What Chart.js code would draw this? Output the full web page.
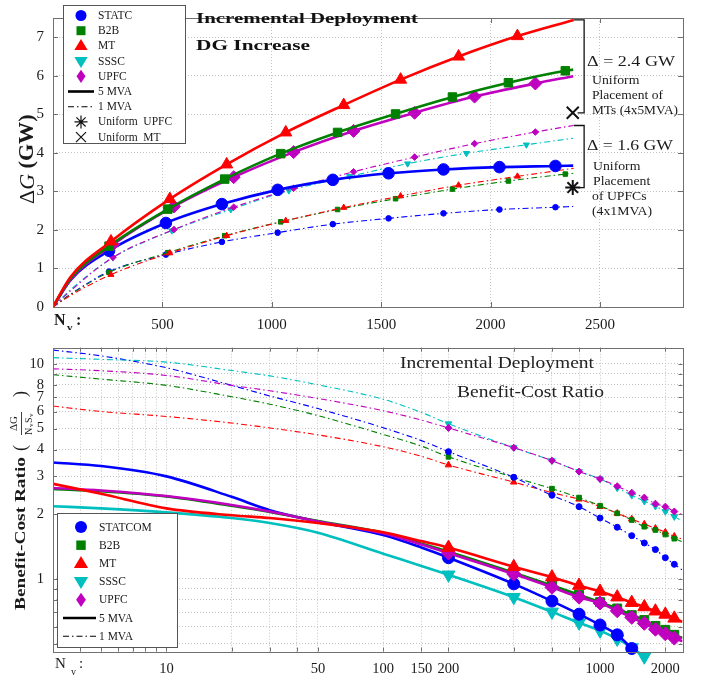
<!DOCTYPE html>
<html><head><meta charset="utf-8">
<script src="https://cdn.jsdelivr.net/npm/chart.js@4/dist/chart.umd.min.js"></script>
<style>
html,body{margin:0;padding:0;background:#fff;}
#wrap{position:relative;width:708px;height:680px;overflow:hidden;}
canvas{position:absolute;left:0;}
</style></head><body>
<div id="wrap">
<canvas id="c1" width="708" height="330" style="top:0"></canvas>
<canvas id="c2" width="708" height="350" style="top:330px"></canvas>
</div>
<script>
// ================= DATA : top panel (ΔG, GW) =================
const topXTicks = [500, 1000, 1500, 2000, 2500];
const topYTicks = [0, 1, 2, 3, 4, 5, 6, 7];

const statc5X = [0, 80, 256, 516, 772, 1027, 1279, 1534, 1785, 2041, 2297, 2378];
const statc5Y = [0, 0.70, 1.46, 2.18, 2.67, 3.04, 3.30, 3.47, 3.57, 3.63, 3.66, 3.67];
const b2b5X   = [0, 80, 256, 525, 785, 1041, 1301, 1566, 1826, 2082, 2342, 2378];
const b2b5Y   = [0, 0.74, 1.58, 2.54, 3.32, 3.98, 4.53, 5.01, 5.45, 5.82, 6.13, 6.16];
const mt5X    = [0, 80, 265, 534, 794, 1064, 1329, 1589, 1854, 2123, 2380];
const mt5Y    = [0, 0.78, 1.70, 2.80, 3.70, 4.53, 5.24, 5.90, 6.50, 7.03, 7.45];
const upfc5X  = [0, 80, 274, 553, 826, 1100, 1374, 1653, 1927, 2205, 2378];
const upfc5Y  = [0, 0.71, 1.62, 2.61, 3.37, 4.02, 4.57, 5.04, 5.46, 5.80, 5.99];

const statc1X = [0, 80, 256, 516, 772, 1027, 1279, 1534, 1785, 2041, 2297, 2378];
const statc1Y = [0, 0.33, 0.92, 1.36, 1.69, 1.93, 2.15, 2.30, 2.43, 2.53, 2.59, 2.61];
const b2b1X   = [0, 80, 256, 525, 785, 1041, 1301, 1566, 1826, 2082, 2342, 2378];
const b2b1Y   = [0, 0.32, 0.90, 1.41, 1.85, 2.21, 2.53, 2.81, 3.06, 3.27, 3.45, 3.47];
const mt1X    = [0, 80, 265, 534, 794, 1064, 1329, 1589, 1854, 2123, 2380];
const mt1Y    = [0, 0.30, 0.84, 1.40, 1.85, 2.24, 2.58, 2.88, 3.16, 3.39, 3.60];
const sssc1X  = [0, 80, 274, 543, 813, 1078, 1356, 1621, 1890, 2164, 2378];
const sssc1Y  = [0, 0.45, 1.28, 1.98, 2.53, 3.02, 3.39, 3.72, 3.99, 4.21, 4.38];
const upfc1X  = [0, 80, 274, 553, 826, 1100, 1374, 1653, 1927, 2205, 2378];
const upfc1Y  = [0, 0.42, 1.29, 2.01, 2.59, 3.08, 3.51, 3.89, 4.24, 4.54, 4.71];

const uniformUpfcX = [2376];
const uniformUpfcY = [3.10];
const uniformMtX   = [2376];
const uniformMtY   = [5.04];

// ================= DATA : bottom panel (benefit-cost ratio) =================
const botXTicks  = [4, 5, 6, 7, 8, 9, 10, 20, 30, 40, 50, 100, 150, 200, 400, 600, 800, 1000, 2000];
const botXLabels = [10, 50, 100, 150, 200, 1000, 2000];
const botYTicks  = [0.5, 0.6, 0.7, 0.8, 0.9, 1, 2, 3, 4, 5, 6, 7, 8, 9, 10];
const botYLabels = [1, 2, 3, 4, 5, 6, 7, 8, 10];

const nvAll = [3, 5, 10, 20, 30, 50, 100, 150, 200, 400, 600, 800, 1000, 1200, 1400, 1600, 1800, 2000, 2200, 2400];
const bcStatcom5X = [3, 5, 10, 20, 30, 50, 100, 150, 200, 400, 600, 800, 1000, 1200, 1400];
const bcStatcom5Y = [3.48, 3.35, 3.0, 2.41, 2.09, 1.85, 1.60, 1.40, 1.256, 0.949, 0.789, 0.686, 0.611, 0.550, 0.475];
const bcSssc5X    = [3, 5, 10, 20, 30, 50, 100, 150, 200, 400, 600, 800, 1000, 1200, 1400, 1600];
const bcSssc5Y    = [2.18, 2.13, 2.04, 1.92, 1.82, 1.64, 1.31, 1.15, 1.046, 0.823, 0.703, 0.626, 0.575, 0.526, 0.48, 0.435];
const bcMt5Y      = [2.77, 2.49, 2.13, 1.98, 1.92, 1.82, 1.65, 1.50, 1.40, 1.14, 1.02, 0.932, 0.875, 0.823, 0.776, 0.741, 0.708, 0.684, 0.656, 0.633];
const bcB2b5Y     = [2.62, 2.56, 2.42, 2.19, 2.05, 1.86, 1.64, 1.46, 1.34, 1.07, 0.932, 0.845, 0.78, 0.729, 0.679, 0.644, 0.605, 0.58, 0.55, 0.531];
const bcUpfc5Y    = [2.65, 2.58, 2.43, 2.21, 2.06, 1.85, 1.63, 1.445, 1.32, 1.054, 0.915, 0.823, 0.773, 0.711, 0.663, 0.622, 0.584, 0.556, 0.531, 0.513];

const bcStatcom1Y = [11.6, 10.9, 9.6, 7.95, 7.1, 6.2, 5.05, 4.4, 3.91, 2.97, 2.45, 2.17, 1.92, 1.74, 1.59, 1.47, 1.37, 1.256, 1.17, 1.10];
const bcB2b1Y     = [8.91, 8.5, 7.95, 7.04, 6.5, 5.75, 4.7, 4.15, 3.70, 2.97, 2.63, 2.39, 2.19, 2.02, 1.88, 1.75, 1.69, 1.61, 1.54, 1.49];
const bcMt1Y      = [6.37, 6.01, 5.70, 5.31, 5.04, 4.68, 4.12, 3.72, 3.39, 2.82, 2.52, 2.35, 2.17, 2.02, 1.90, 1.80, 1.72, 1.65, 1.58, 1.53];
const bcSssc1Y    = [10.7, 10.5, 10.2, 9.32, 8.8, 8.0, 6.85, 5.95, 5.27, 4.08, 3.55, 3.16, 2.92, 2.65, 2.45, 2.30, 2.18, 2.06, 1.95, 1.86];
const bcUpfc1Y    = [9.49, 9.3, 8.84, 7.95, 7.5, 6.91, 6.06, 5.48, 5.04, 4.08, 3.55, 3.16, 2.92, 2.70, 2.52, 2.39, 2.24, 2.17, 2.06, 1.99];

// ================= STYLE =================
const SERIF = "'Liberation Serif','Times New Roman',serif";
const C = {blue:'#0000ff', green:'#008000', red:'#ff0000', cyan:'#00bfbf', magenta:'#bf00bf', black:'#000'};

function pts(xs, ys){ return xs.map((x,i)=>({x:x, y:ys[i]})); }
function mRad(r){ return c => { const p = c.raw; return (p && p.x >= 200 && p.x < 2370) ? r : 0; }; }
function series(label, xs, ys, color, style, big, extra){
  return Object.assign({
    label: label, data: pts(xs, ys),
    borderColor: color, backgroundColor: color,
    pointBackgroundColor: color, pointBorderColor: color,
    borderWidth: big ? 2.6 : 1.1,
    borderDash: big ? [] : [6, 3, 1.5, 3],
    pointStyle: style, pointRadius: mRad(big ? 6 : 2.8), pointHoverRadius: 0,
    pointBorderWidth: 1, cubicInterpolationMode: 'monotone', fill: false
  }, extra || {});
}

function txt(ctx, s, x, y, size, weight, opt){
  opt = opt || {};
  ctx.save();
  ctx.font = (opt.italic ? 'italic ' : '') + (weight||'normal') + ' ' + size + 'px ' + SERIF;
  ctx.fillStyle = opt.color || '#1a1a1a';
  ctx.textBaseline = 'middle'; ctx.textAlign = 'left';
  const m = ctx.measureText(s).width;
  const sx = opt.width ? opt.width / m : (opt.stretch || 1);
  ctx.translate(x, y); ctx.scale(sx, 1);
  ctx.fillText(s, 0, 0);
  ctx.restore();
  return m * sx;
}

function marker(ctx, style, x, y, r, color){
  ctx.save(); ctx.fillStyle = color; ctx.strokeStyle = color; ctx.lineWidth = 1;
  ctx.beginPath();
  if (style === 'circle') { ctx.arc(x, y, r, 0, Math.PI*2); ctx.fill(); }
  else if (style === 'rect') { const s = r*0.75; ctx.rect(x-s, y-s, 2*s, 2*s); ctx.fill(); }
  else if (style === 'triUp') { ctx.moveTo(x, y-r); ctx.lineTo(x+r*0.95, y+r*0.6); ctx.lineTo(x-r*0.95, y+r*0.6); ctx.closePath(); ctx.fill(); }
  else if (style === 'triDown') { ctx.moveTo(x, y+r); ctx.lineTo(x+r*0.95, y-r*0.6); ctx.lineTo(x-r*0.95, y-r*0.6); ctx.closePath(); ctx.fill(); }
  else if (style === 'diamond') { ctx.moveTo(x, y-r*1.1); ctx.lineTo(x+r*0.75, y); ctx.lineTo(x, y+r*1.1); ctx.lineTo(x-r*0.75, y); ctx.closePath(); ctx.fill(); }
  else if (style === 'star') { ctx.lineWidth = 1.2; for (let k=0;k<4;k++){ const a=k*Math.PI/4; ctx.moveTo(x-r*Math.cos(a), y-r*Math.sin(a)); ctx.lineTo(x+r*Math.cos(a), y+r*Math.sin(a)); } ctx.stroke(); }
  else if (style === 'x') { ctx.lineWidth = 1.2; ctx.moveTo(x-r, y-r); ctx.lineTo(x+r, y+r); ctx.moveTo(x+r, y-r); ctx.lineTo(x-r, y+r); ctx.stroke(); }
  ctx.restore();
}

function frameAndTicks(chart, len){
  const ctx = chart.ctx, a = chart.chartArea, xs = chart.scales.x, ys = chart.scales.y;
  ctx.save(); ctx.strokeStyle = '#707070'; ctx.lineWidth = 1;
  ctx.beginPath();
  xs.ticks.forEach(t => { const p = Math.round(xs.getPixelForValue(t.value)) + 0.5;
    if (p <= a.left + 1 || p >= a.right - 1) return;
    ctx.moveTo(p, a.bottom); ctx.lineTo(p, a.bottom - len); ctx.moveTo(p, a.top); ctx.lineTo(p, a.top + len); });
  ys.ticks.forEach(t => { const p = Math.round(ys.getPixelForValue(t.value)) + 0.5;
    if (p <= a.top + 1 || p >= a.bottom - 1) return;
    ctx.moveTo(a.left, p); ctx.lineTo(a.left + len, p); ctx.moveTo(a.right, p); ctx.lineTo(a.right - len, p); });
  ctx.stroke();
  ctx.strokeRect(Math.round(a.left) + 0.5, Math.round(a.top) + 0.5, Math.round(a.right - a.left), Math.round(a.bottom - a.top));
  ctx.restore();
}

function legendBox(ctx, box, rows, rowH, mx, tx, fs, lineX0, lineX1){
  ctx.save();
  ctx.fillStyle = '#fff'; ctx.fillRect(box[0], box[1], box[2]-box[0], box[3]-box[1]);
  ctx.strokeStyle = '#555'; ctx.lineWidth = 1;
  ctx.strokeRect(box[0]+0.5, box[1]+0.5, box[2]-box[0], box[3]-box[1]);
  rows.forEach((r, i) => {
    const y = box[1] + rowH.first + i*rowH.step;
    if (r.line) {
      ctx.save(); ctx.strokeStyle = '#000'; ctx.lineWidth = r.line === 'solid' ? 2.6 : 1.1;
      ctx.setLineDash(r.line === 'solid' ? [] : [6,3,1.5,3]);
      ctx.beginPath(); ctx.moveTo(lineX0, y); ctx.lineTo(lineX1, y); ctx.stroke(); ctx.restore();
    } else marker(ctx, r.m, mx, y, r.r || 6, r.c);
    txt(ctx, r.t, tx, y + 0.5, fs, 'normal');
  });
  ctx.restore();
}

// ================= TOP CHART =================
const topDecor = {
  id: 'topDecor',
  afterDraw(chart){
    const ctx = chart.ctx, xs = chart.scales.x, ys = chart.scales.y;
    frameAndTicks(chart, 5);
    // N_v :
    txt(ctx, 'N', 54, 321, 16, 'bold');
    txt(ctx, 'v', 67, 328, 11, 'bold');
    txt(ctx, ':', 76, 321, 16, 'bold');
    // y title
    ctx.save(); ctx.translate(28, 204); ctx.rotate(-Math.PI/2);
    let w = 0;
    w += txt(ctx, 'Δ', w, 0, 21, 'normal', {stretch:1.05});
    w += txt(ctx, 'G', w, 0, 21, 'normal', {italic:true, stretch:1.05});
    txt(ctx, ' (GW)', w, 0, 21, 'bold', {stretch:1.05});
    ctx.restore();
    // titles
    txt(ctx, 'Incremental Deployment', 196, 19, 15, 'bold', {width:222, color:'#111'});
    txt(ctx, 'DG Increase', 196, 46, 15, 'bold', {width:114, color:'#111'});
    // brackets
    ctx.save(); ctx.strokeStyle = '#111'; ctx.lineWidth = 1.3;
    const xe = xs.getPixelForValue(mt5X[mt5X.length-1]);
    const xb = xe + 10.5;
    const y1 = ys.getPixelForValue(mt5Y[mt5Y.length-1]);
    const y2 = ys.getPixelForValue(uniformMtY[0]);
    ctx.beginPath(); ctx.moveTo(xe, y1); ctx.lineTo(xb, y1); ctx.lineTo(xb, y2); ctx.lineTo(xe+4, y2); ctx.stroke();
    const y3 = ys.getPixelForValue(upfc1Y[upfc1Y.length-1]);
    const y4 = ys.getPixelForValue(uniformUpfcY[0]);
    ctx.beginPath(); ctx.moveTo(xe, y3); ctx.lineTo(xb, y3); ctx.lineTo(xb, y4); ctx.lineTo(xe+5, y4); ctx.stroke();
    ctx.restore();
    // annotations
    txt(ctx, 'Δ = 2.4 GW', 587, 62, 14.5, 'normal', {width:88});
    txt(ctx, 'Uniform', 592, 81, 12.5, 'normal', {stretch:1.1});
    txt(ctx, 'Placement of', 592, 96, 12.5, 'normal', {width:71});
    txt(ctx, 'MTs (4x5MVA)', 592, 111, 12.5, 'normal', {width:86});
    txt(ctx, 'Δ = 1.6 GW', 587, 146, 14.5, 'normal', {width:86});
    txt(ctx, 'Uniform', 593, 167, 12.5, 'normal', {stretch:1.1});
    txt(ctx, 'Placement', 593, 182, 12.5, 'normal', {stretch:1.1});
    txt(ctx, 'of UPFCs', 592, 197, 12.5, 'normal', {stretch:1.1});
    txt(ctx, '(4x1MVA)', 592, 212, 12.5, 'normal', {stretch:1.1});
    // legend
    legendBox(ctx, [63, 5, 185, 143], [
      {m:'circle', c:C.blue, t:'STATC', r:5.5},
      {m:'rect', c:C.green, t:'B2B', r:6},
      {m:'triUp', c:C.red, t:'MT', r:7},
      {m:'triDown', c:C.cyan, t:'SSSC', r:7},
      {m:'diamond', c:C.magenta, t:'UPFC', r:6},
      {line:'solid', t:'5 MVA'},
      {line:'dash', t:'1 MVA'},
      {m:'star', c:'#111', t:'Uniform  UPFC', r:6.5},
      {m:'x', c:'#111', t:'Uniform  MT', r:5}
    ], {first:10.5, step:15.2}, 81, 98, 11.5, 68, 94);
  }
};

new Chart(document.getElementById('c1'), {
  type: 'line',
  data: { datasets: [
    series('Uniform UPFC', uniformUpfcX, uniformUpfcY, '#111', 'star', true, {pointRadius:7.5, pointBorderWidth:2, showLine:false}),
    series('Uniform MT', uniformMtX, uniformMtY, '#111', 'crossRot', true, {pointRadius:8.5, pointBorderWidth:2, showLine:false}),
    series('MT 5', mt5X, mt5Y, C.red, 'triangle', true, {pointRadius:mRad(7)}),
    series('B2B 5', b2b5X, b2b5Y, C.green, 'rect', true),
    series('UPFC 5', upfc5X, upfc5Y, C.magenta, 'rectRot', true, {pointRadius:mRad(6.5)}),
    series('STATC 5', statc5X, statc5Y, C.blue, 'circle', true, {pointRadius:mRad(5.8)}),
    series('UPFC 1', upfc1X, upfc1Y, C.magenta, 'rectRot', false, {pointRadius:mRad(3.3)}),
    series('SSSC 1', sssc1X, sssc1Y, C.cyan, 'triangle', false, {pointRotation:180, pointRadius:mRad(3.5)}),
    series('MT 1', mt1X, mt1Y, C.red, 'triangle', false, {pointRadius:mRad(3.5)}),
    series('B2B 1', b2b1X, b2b1Y, C.green, 'rect', false, {pointRadius:mRad(3.2)}),
    series('STATC 1', statc1X, statc1Y, C.blue, 'circle', false, {pointRadius:mRad(2.8)})
  ]},
  options: {
    responsive: false, animation: false, events: [],
    layout: { padding: { left: 0, right: 25, top: 3, bottom: 0 } },
    plugins: { legend: { display: false }, tooltip: { enabled: false } },
    scales: {
      x: { type: 'linear', min: 0, max: 2880,
        afterBuildTicks: s => { s.ticks = topXTicks.map(v => ({value: v})); },
        afterFit: s => { s.height = 23; },
        grid: { color: '#c4c4c4', lineWidth: 1, drawTicks: false },
        border: { display: false, dash: [1, 2] },
        ticks: { color: '#1a1a1a', font: { family: SERIF, size: 15 }, padding: 9, maxRotation: 0, autoSkip: false,
          callback: v => String(v) } },
      y: { type: 'linear', min: 0, max: 7.5,
        afterBuildTicks: s => { s.ticks = topYTicks.map(v => ({value: v})); },
        afterFit: s => { s.width = 53; },
        grid: { color: c => (c.tick && c.tick.value === 0) ? 'rgba(0,0,0,0)' : '#c4c4c4', lineWidth: 1, drawTicks: false },
        border: { display: false, dash: [1, 2] },
        ticks: { color: '#1a1a1a', font: { family: SERIF, size: 15 }, padding: 9, autoSkip: false,
          callback: v => String(v) } }
    }
  },
  plugins: [topDecor]
});

// ================= BOTTOM CHART =================
const botDecor = {
  id: 'botDecor',
  afterDraw(chart){
    const ctx = chart.ctx;
    frameAndTicks(chart, 4);
    txt(ctx, 'N', 55, 334, 15, 'normal');
    txt(ctx, 'v', 71, 342, 10, 'normal');
    txt(ctx, ':', 79, 334, 15, 'normal');
    // y title
    ctx.save(); ctx.translate(21, 280); ctx.rotate(-Math.PI/2);
    let w = txt(ctx, 'Benefit-Cost Ratio', 0, 0, 15, 'bold', {width:153});
    w += 6; txt(ctx, '(', w, 0, 18, 'normal'); w += 16;
    txt(ctx, 'ΔG', w + 4, -7, 11, 'normal');
    txt(ctx, 'N', w, 8, 10, 'normal'); txt(ctx, 'v', w + 8, 10, 7, 'normal');
    txt(ctx, 'S', w + 12, 8, 10, 'normal'); txt(ctx, 'v', w + 18, 10, 7, 'normal');
    ctx.strokeStyle = '#111'; ctx.lineWidth = 0.8; ctx.beginPath(); ctx.moveTo(w, 0.5); ctx.lineTo(w + 23, 0.5); ctx.stroke();
    w += 38; txt(ctx, ')', w, 0, 18, 'normal');
    ctx.restore();
    // titles
    txt(ctx, 'Incremental Deployment', 400, 33.5, 16.5, 'normal', {width:194, color:'#222'});
    txt(ctx, 'Benefit-Cost Ratio', 457, 62.5, 16.5, 'normal', {width:147, color:'#222'});
    // legend
    legendBox(ctx, [57, 183, 177, 317], [
      {m:'circle', c:C.blue, t:'STATCOM', r:6},
      {m:'rect', c:C.green, t:'B2B', r:6.3},
      {m:'triUp', c:C.red, t:'MT', r:7.5},
      {m:'triDown', c:C.cyan, t:'SSSC', r:7.5},
      {m:'diamond', c:C.magenta, t:'UPFC', r:6.5},
      {line:'solid', t:'5 MVA'},
      {line:'dash', t:'1 MVA'}
    ], {first:14, step:18.2}, 81, 99, 11.5, 63, 96);
  }
};

const lowClip = {left: 0, top: 0, right: 0, bottom: 14};
new Chart(document.getElementById('c2'), {
  type: 'line',
  data: { datasets: [
    series('MT 5', nvAll, bcMt5Y, C.red, 'triangle', true, {pointRadius:mRad(7.5)}),
    series('UPFC 5', nvAll, bcUpfc5Y, C.magenta, 'rectRot', true, {pointRadius:mRad(7)}),
    series('B2B 5', nvAll, bcB2b5Y, C.green, 'rect', true, {pointRadius:mRad(6.3)}),
    series('STATCOM 5', bcStatcom5X, bcStatcom5Y, C.blue, 'circle', true, {pointRadius:mRad(6), clip: lowClip}),
    series('SSSC 5', bcSssc5X, bcSssc5Y, C.cyan, 'triangle', true, {pointRotation:180, pointRadius:mRad(7.5), clip: lowClip}),
    series('UPFC 1', nvAll, bcUpfc1Y, C.magenta, 'rectRot', false, {pointRadius:mRad(3.5)}),
    series('SSSC 1', nvAll, bcSssc1Y, C.cyan, 'triangle', false, {pointRotation:180, pointRadius:mRad(3.8)}),
    series('STATCOM 1', nvAll, bcStatcom1Y, C.blue, 'circle', false, {pointRadius:mRad(3)}),
    series('B2B 1', nvAll, bcB2b1Y, C.green, 'rect', false, {pointRadius:mRad(3.3)}),
    series('MT 1', nvAll, bcMt1Y, C.red, 'triangle', false, {pointRadius:mRad(3.8)})
  ]},
  options: {
    responsive: false, animation: false, events: [],
    layout: { padding: { left: 0, right: 25.5, top: 14, bottom: 0 } },
    plugins: { legend: { display: false }, tooltip: { enabled: false } },
    scales: {
      x: { type: 'logarithmic', min: 3, max: 2400,
        afterBuildTicks: s => { s.ticks = botXTicks.map(v => ({value: v})); },
        afterFit: s => { s.height = 28.5; },
        grid: { color: '#c4c4c4', lineWidth: 1, drawTicks: false },
        border: { display: false, dash: [1, 2] },
        ticks: { color: '#1a1a1a', font: { family: SERIF, size: 14.5 }, padding: 9, maxRotation: 0, autoSkip: false,
          callback: v => botXLabels.includes(v) ? String(v) : '' } },
      y: { type: 'logarithmic', min: 0.46, max: 11.9,
        afterBuildTicks: s => { s.ticks = botYTicks.map(v => ({value: v})); },
        afterFit: s => { s.width = 53; },
        grid: { color: '#c4c4c4', lineWidth: 1, drawTicks: false },
        border: { display: false, dash: [1, 2] },
        ticks: { color: '#1a1a1a', font: { family: SERIF, size: 14.5 }, padding: 9, autoSkip: false,
          callback: v => botYLabels.includes(v) ? String(v) : '' } }
    }
  },
  plugins: [botDecor]
});
</script>
</body></html>
